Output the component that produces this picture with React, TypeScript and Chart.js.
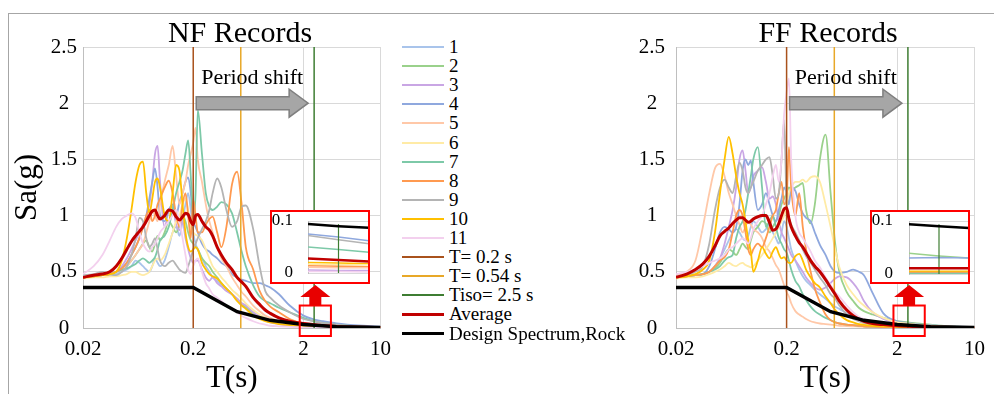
import React, { useEffect, useRef } from 'react';
import { Chart, registerables } from 'chart.js';

Chart.register(...registerables);

const SERIF = "'Liberation Serif', 'Times New Roman', serif";

// Spectral periods T (s) shared by every record curve
const periods = [
  0.02, 0.025, 0.03, 0.035, 0.04, 0.045, 0.05, 0.055, 0.06, 0.065,
  0.07, 0.075, 0.08, 0.085, 0.09, 0.095, 0.1, 0.11, 0.12, 0.13,
  0.14, 0.15, 0.16, 0.17, 0.18, 0.19, 0.2, 0.21, 0.22,
  0.24, 0.26, 0.28, 0.3, 0.33, 0.36, 0.4, 0.45, 0.5, 0.55, 0.6,
  0.7, 0.8, 0.9, 1.0, 1.2, 1.5, 2.0, 2.5, 3, 4, 5, 7, 10,
];

// Near-fault records, Sa (g)
const nfRec1 = [
  0.45, 0.46, 0.47, 0.47, 0.48, 0.5, 0.52, 0.55, 0.6, 0.58,
  0.55, 0.52, 0.5, 0.55, 0.62, 0.58, 0.55, 0.6, 0.72, 0.85,
  0.9, 0.82, 0.95, 1.1, 1.2, 1.05, 0.85, 0.75, 0.7,
  0.62, 0.55, 0.5, 0.45, 0.42, 0.38, 0.35, 0.3, 0.26, 0.22, 0.19,
  0.14, 0.11, 0.09, 0.07, 0.05, 0.035, 0.025, 0.02, 0.015, 0.01, 0.008, 0.005, 0.003,
];
const nfRec2 = [
  0.45, 0.46, 0.47, 0.48, 0.5, 0.52, 0.55, 0.6, 0.65, 0.7,
  0.75, 0.78, 0.72, 0.68, 0.75, 0.82, 0.78, 0.85, 0.95, 0.9,
  0.85, 0.92, 1.0, 0.95, 0.85, 0.78, 0.75, 0.72, 0.7,
  0.62, 0.58, 0.55, 0.5, 0.45, 0.4, 0.35, 0.3, 0.25, 0.21, 0.18,
  0.13, 0.1, 0.08, 0.06, 0.045, 0.03, 0.02, 0.015, 0.012, 0.008, 0.006, 0.004, 0.003,
];
const nfRec3 = [
  0.45, 0.46, 0.47, 0.48, 0.5, 0.55, 0.62, 0.7, 0.78, 0.85,
  0.92, 0.98, 1.1, 1.3, 1.55, 1.62, 1.3, 0.9, 1.05, 1.08,
  0.92, 0.87, 0.95, 0.8, 0.7, 0.62, 0.58, 0.6, 0.6,
  0.52, 0.45, 0.42, 0.45, 0.4, 0.37, 0.33, 0.3, 0.26, 0.22, 0.2,
  0.14, 0.1, 0.07, 0.05, 0.035, 0.02, 0.012, 0.008, 0.006, 0.004, 0.003, 0.002, 0.001,
];
const nfRec4 = [
  0.45, 0.46, 0.47, 0.48, 0.5, 0.53, 0.58, 0.65, 0.72, 0.8,
  0.9, 1.0, 1.15, 1.3, 1.42, 1.25, 1.0, 0.95, 1.05, 1.1,
  1.0, 1.12, 1.2, 1.3, 1.34, 1.2, 0.95, 0.9, 0.85,
  0.75, 0.7, 0.68, 0.65, 0.62, 0.58, 0.55, 0.48, 0.45, 0.43, 0.42,
  0.4, 0.4, 0.38, 0.36, 0.3, 0.2, 0.11, 0.075, 0.06, 0.04, 0.03, 0.02, 0.012,
];
const nfRec5 = [
  0.45, 0.46, 0.47, 0.48, 0.5, 0.52, 0.55, 0.6, 0.65, 0.7,
  0.75, 0.85, 0.95, 1.05, 1.0, 0.95, 1.1, 1.3, 1.45, 1.62,
  1.35, 1.1, 1.2, 1.3, 1.45, 1.55, 1.65, 1.78, 1.5,
  1.3, 1.1, 0.95, 0.85, 0.72, 0.62, 0.55, 0.45, 0.38, 0.32, 0.28,
  0.2, 0.15, 0.11, 0.09, 0.06, 0.04, 0.025, 0.018, 0.013, 0.008, 0.006, 0.004, 0.003,
];
const nfRec6 = [
  0.44, 0.45, 0.45, 0.46, 0.46, 0.47, 0.48, 0.5, 0.5, 0.48,
  0.47, 0.48, 0.5, 0.55, 0.6, 0.62, 0.6, 0.65, 0.75, 0.85,
  0.95, 1.0, 1.1, 1.15, 1.05, 0.9, 0.85, 0.83, 0.82,
  0.78, 0.7, 0.62, 0.55, 0.5, 0.45, 0.4, 0.34, 0.3, 0.26, 0.22,
  0.16, 0.12, 0.09, 0.07, 0.05, 0.03, 0.02, 0.015, 0.01, 0.007, 0.005, 0.003, 0.002,
];
const nfRec7 = [
  0.45, 0.46, 0.47, 0.48, 0.5, 0.52, 0.53, 0.55, 0.57, 0.6,
  0.62, 0.6, 0.58, 0.6, 0.63, 0.7, 0.78, 0.82, 0.9, 1.05,
  1.2, 1.3, 1.4, 1.55, 1.67, 1.35, 0.95, 1.2, 1.94,
  1.55, 1.2, 1.08, 1.05, 1.08, 1.12, 1.1, 1.02, 0.85, 0.68, 0.55,
  0.38, 0.28, 0.24, 0.22, 0.18, 0.14, 0.09, 0.06, 0.045, 0.03, 0.02, 0.012, 0.008,
];
const nfRec8 = [
  0.45, 0.46, 0.47, 0.48, 0.5, 0.53, 0.58, 0.65, 0.72, 0.8,
  0.9, 1.0, 1.05, 0.95, 1.0, 1.1, 1.15, 1.25, 1.31, 1.2,
  1.0, 0.9, 1.1, 1.2, 1.0, 0.8, 1.14, 1.0, 0.85,
  0.85, 0.92, 0.97, 0.99, 0.85, 0.72, 0.9, 1.28, 1.39, 1.1, 0.72,
  0.52, 0.33, 0.24, 0.19, 0.14, 0.08, 0.04, 0.03, 0.02, 0.012, 0.008, 0.005, 0.003,
];
const nfRec9 = [
  0.47, 0.48, 0.5, 0.48, 0.47, 0.5, 0.55, 0.65, 0.8, 0.98,
  0.95, 0.8, 0.72, 0.75, 0.8, 0.7, 0.6, 0.55, 0.58, 0.6,
  0.56, 0.52, 0.5, 0.49, 0.55, 0.62, 0.7, 0.75, 0.8,
  0.88, 0.95, 1.05, 1.2, 1.33, 1.25, 1.05, 0.9, 0.95, 1.08, 1.09,
  0.88, 0.55, 0.33, 0.27, 0.2, 0.14, 0.08, 0.06, 0.045, 0.03, 0.02, 0.012, 0.008,
];
const nfRec10 = [
  0.45, 0.46, 0.47, 0.48, 0.5, 0.6, 0.8, 1.05, 1.3, 1.45,
  1.48, 1.2, 1.02, 1.15, 1.3, 1.33, 1.25, 1.0, 0.95, 1.2,
  1.45, 1.4, 1.1, 0.85, 0.72, 0.68, 0.7, 0.72, 0.7,
  0.58, 0.52, 0.48, 0.46, 0.44, 0.4, 0.35, 0.3, 0.24, 0.2, 0.17,
  0.11, 0.08, 0.06, 0.05, 0.035, 0.025, 0.018, 0.015, 0.012, 0.008, 0.006, 0.004, 0.003,
];
const nfRec11 = [
  0.48, 0.55, 0.65, 0.78, 0.9, 0.97, 1.0, 1.02, 0.98, 0.85,
  0.75, 0.7, 0.68, 0.72, 0.75, 0.8, 0.85, 0.9, 0.95, 1.0,
  1.05, 0.95, 0.8, 0.65, 0.52, 0.48, 0.55, 0.6, 0.62,
  0.5, 0.4, 0.35, 0.3, 0.27, 0.24, 0.2, 0.17, 0.14, 0.11, 0.09,
  0.06, 0.04, 0.03, 0.02, 0.015, 0.01, 0.006, 0.004, 0.003, 0.002, 0.001, 0.001, 0.001,
];
const nfAverage = [
  0.45, 0.47, 0.48, 0.5, 0.55, 0.62, 0.7, 0.77, 0.82, 0.86,
  0.9, 0.95, 1.0, 1.04, 1.05, 1.0, 0.97, 1.0, 1.05, 1.04,
  0.99, 0.96, 0.99, 1.02, 1.01, 0.95, 0.92, 1.0, 1.01,
  0.95, 0.9, 0.87, 0.82, 0.72, 0.65, 0.58, 0.52, 0.45, 0.41, 0.37,
  0.27, 0.21, 0.16, 0.13, 0.09, 0.06, 0.04, 0.03, 0.022, 0.014, 0.01, 0.006, 0.004,
];

// Far-fault records, Sa (g)
const ffRec1 = [
  0.45, 0.46, 0.47, 0.48, 0.5, 0.55, 0.62, 0.7, 0.78, 0.85,
  0.88, 0.85, 0.8, 0.78, 0.82, 0.9, 0.95, 0.9, 0.85, 0.88,
  0.92, 0.85, 0.8, 0.75, 0.85, 0.95, 0.9, 0.8, 0.7,
  0.6, 0.52, 0.46, 0.42, 0.38, 0.34, 0.3, 0.26, 0.22, 0.19, 0.17,
  0.13, 0.1, 0.08, 0.06, 0.045, 0.03, 0.02, 0.015, 0.01, 0.007, 0.005, 0.003, 0.002,
];
const ffRec2 = [
  0.45, 0.46, 0.47, 0.48, 0.5, 0.53, 0.58, 0.65, 0.7, 0.68,
  0.65, 0.7, 0.75, 0.72, 0.7, 0.78, 0.85, 0.9, 0.95, 0.93,
  0.85, 0.9, 0.95, 1.0, 1.1, 1.15, 1.2, 1.25, 1.22,
  1.25, 1.27, 1.29, 1.05, 0.93, 1.1, 1.5, 1.72, 1.2, 0.75, 0.5,
  0.32, 0.24, 0.18, 0.15, 0.12, 0.09, 0.06, 0.05, 0.04, 0.03, 0.02, 0.012, 0.007,
];
const ffRec3 = [
  0.45, 0.46, 0.47, 0.48, 0.5, 0.55, 0.62, 0.75, 0.9, 1.05,
  1.25, 1.5, 1.58, 1.4, 1.2, 1.25, 1.35, 1.4, 1.43, 1.3,
  1.15, 1.17, 1.1, 0.95, 0.85, 0.8, 0.75, 0.7, 0.65,
  0.6, 0.55, 0.5, 0.45, 0.4, 0.36, 0.34, 0.36, 0.4, 0.44, 0.46,
  0.45, 0.4, 0.33, 0.24, 0.14, 0.08, 0.04, 0.03, 0.022, 0.015, 0.01, 0.006, 0.004,
];
const ffRec4 = [
  0.45, 0.46, 0.47, 0.48, 0.55, 0.7, 0.85, 0.9, 0.88, 0.85,
  0.9, 1.1, 1.4, 1.5, 1.45, 1.49, 1.3, 1.05, 1.1, 1.2,
  1.1, 1.0, 0.95, 1.05, 1.15, 1.25, 1.2, 1.1, 1.25,
  1.22, 1.1, 1.02, 0.98, 0.95, 0.85, 0.74, 0.65, 0.55, 0.5, 0.49,
  0.5, 0.52, 0.5, 0.47, 0.31, 0.13, 0.06, 0.045, 0.035, 0.025, 0.018, 0.012, 0.008,
];
const ffRec5 = [
  0.47, 0.5, 0.6, 0.9, 1.2, 1.42, 1.46, 1.35, 1.2, 1.1,
  1.0, 0.92, 0.85, 0.9, 0.95, 0.92, 0.88, 0.85, 0.8, 0.72,
  0.68, 0.62, 0.56, 0.52, 0.45, 0.38, 0.32, 0.28, 0.22,
  0.15, 0.12, 0.1, 0.08, 0.06, 0.05, 0.04, 0.035, 0.03, 0.025, 0.02,
  0.018, 0.015, 0.012, 0.01, 0.008, 0.006, 0.004, 0.003, 0.002, 0.002, 0.001, 0.001, 0.001,
];
const ffRec6 = [
  0.44, 0.45, 0.45, 0.46, 0.48, 0.5, 0.52, 0.55, 0.58, 0.56,
  0.55, 0.57, 0.58, 0.56, 0.55, 0.54, 0.55, 0.6, 0.65, 0.7,
  0.75, 0.8, 0.85, 0.9, 0.95, 1.0, 1.1, 1.2, 1.25,
  1.3, 1.3, 1.32, 1.3, 1.34, 1.35, 1.3, 1.1, 0.9, 0.7, 0.54,
  0.38, 0.3, 0.24, 0.2, 0.14, 0.09, 0.05, 0.04, 0.03, 0.02, 0.015, 0.01, 0.006,
];
const ffRec7 = [
  0.45, 0.46, 0.47, 0.48, 0.5, 0.52, 0.55, 0.6, 0.63, 0.65,
  0.8, 0.9, 0.95, 1.05, 1.2, 1.35, 1.5, 1.61, 1.25, 0.9,
  0.95, 1.0, 0.9, 0.8, 0.75, 0.7, 0.67, 0.6, 0.52,
  0.42, 0.37, 0.3, 0.25, 0.19, 0.15, 0.12, 0.09, 0.07, 0.05, 0.04,
  0.03, 0.025, 0.02, 0.015, 0.012, 0.008, 0.006, 0.005, 0.004, 0.003, 0.002, 0.001, 0.001,
];
const ffRec8 = [
  0.45, 0.46, 0.47, 0.48, 0.5, 0.55, 0.6, 0.63, 0.7, 0.85,
  1.0, 1.05, 1.0, 0.85, 0.7, 0.65, 0.7, 0.75, 0.72, 0.8,
  0.9, 1.0, 1.05, 1.2, 1.3, 1.1, 1.15, 1.61, 1.25,
  1.0, 1.2, 0.9, 0.7, 0.5, 0.35, 0.23, 0.12, 0.07, 0.05, 0.04,
  0.03, 0.025, 0.02, 0.015, 0.012, 0.008, 0.006, 0.005, 0.004, 0.003, 0.002, 0.001, 0.001,
];
const ffRec9 = [
  0.46, 0.47, 0.5, 0.55, 0.75, 1.05, 1.25, 1.32, 1.25, 1.2,
  1.35, 1.47, 1.4, 1.25, 1.2, 1.25, 1.3, 1.4, 1.45, 1.5,
  1.52, 1.35, 1.15, 1.2, 1.5, 1.85, 1.1, 0.98, 0.92,
  0.85, 0.78, 0.7, 0.64, 0.58, 0.52, 0.45, 0.38, 0.3, 0.26, 0.2,
  0.12, 0.08, 0.06, 0.045, 0.03, 0.02, 0.012, 0.009, 0.007, 0.005, 0.003, 0.002, 0.001,
];
const ffRec10 = [
  0.45, 0.46, 0.48, 0.52, 0.6, 0.85, 1.2, 1.5, 1.7, 1.55,
  1.35, 1.2, 1.1, 0.95, 0.78, 0.68, 0.5, 0.6, 0.72, 0.66,
  0.62, 0.68, 0.72, 0.66, 0.62, 0.63, 0.6, 0.58, 0.58,
  0.64, 0.66, 0.6, 0.52, 0.45, 0.4, 0.36, 0.28, 0.22, 0.16, 0.12,
  0.07, 0.05, 0.035, 0.028, 0.02, 0.015, 0.01, 0.008, 0.006, 0.004, 0.003, 0.002, 0.001,
];
const ffRec11 = [
  0.48, 0.5, 0.52, 0.55, 0.58, 0.6, 0.62, 0.65, 0.7, 0.72,
  0.75, 0.78, 0.8, 0.78, 0.75, 0.8, 0.88, 0.95, 1.0, 1.1,
  1.2, 1.35, 1.45, 1.3, 1.5, 1.9, 2.1, 2.22, 1.5,
  1.0, 0.85, 0.8, 0.75, 0.68, 0.6, 0.54, 0.45, 0.38, 0.32, 0.28,
  0.2, 0.14, 0.1, 0.08, 0.05, 0.03, 0.02, 0.015, 0.01, 0.007, 0.005, 0.003, 0.002,
];
const ffAverage = [
  0.45, 0.48, 0.52, 0.57, 0.64, 0.73, 0.82, 0.86, 0.89, 0.93,
  0.96, 0.98, 0.98, 0.96, 0.94, 0.95, 0.97, 0.99, 1.0, 1.0,
  0.94, 0.87, 0.88, 0.93, 1.0, 1.06, 1.07, 0.97, 0.9,
  0.82, 0.76, 0.72, 0.67, 0.6, 0.55, 0.5, 0.43, 0.36, 0.3, 0.24,
  0.16, 0.11, 0.08, 0.06, 0.04, 0.03, 0.02, 0.015, 0.012, 0.008, 0.006, 0.004, 0.003,
];

// Design spectrum, rock site
const designPeriods = [0.02, 0.2, 0.5, 1, 2, 4, 10];
const designSa = [0.36, 0.36, 0.145, 0.068, 0.032, 0.012, 0.004];

// Reference periods (fixed-base, intermediate, isolated)
const refPeriods = [0.2, 0.54, 2.5];
const refLabels = ['T= 0.2 s', 'T= 0.54 s', 'Tiso= 2.5 s'];
const refColors = ['#A9521C', '#E8A828', '#3E7D32'];

const recordLabels = ['1', '2', '3', '4', '5', '6', '7', '8', '9', '10', '11'];
const recordColors = [
  '#A9C4EB', '#9AD18B', '#C9A6E4', '#8FA8DE', '#FFC8A8', '#FFEBA6',
  '#7DC9A8', '#FF9A50', '#B4B4B4', '#FFC000', '#F3D0EE',
];
const AVERAGE_COLOR = '#C00000';
const DESIGN_COLOR = '#000000';

const xTickValues = [0.02, 0.2, 2, 10];
const yTickValues = [0, 0.5, 1, 1.5, 2, 2.5];

// Close-up window around Tiso (T from 2 s to 3 s, Sa 0 to 0.1 g)
const insetPeriods = [2.0, 2.5, 3.0];
const insetTicks = [0, 0.1];
const nfInsetDesign = [0.094, 0.09, 0.087];
const nfInsetAverage = [0.028, 0.025, 0.022];
const nfInsetRec4 = [0.075, 0.069, 0.062];
const nfInsetRec9 = [0.072, 0.064, 0.056];
const nfInsetRec7 = [0.05, 0.045, 0.04];
const nfInsetRec10 = [0.02, 0.019, 0.018];
const nfInsetRec6 = [0.017, 0.016, 0.016];
const nfInsetRec8 = [0.014, 0.013, 0.012];
const nfInsetRec5 = [0.011, 0.01, 0.01];
const nfInsetRec3 = [0.006, 0.005, 0.005];
const nfInsetRec11 = [0.003, 0.003, 0.002];
const ffInsetDesign = [0.094, 0.09, 0.087];
const ffInsetAverage = [0.011, 0.011, 0.011];
const ffInsetRec2 = [0.039, 0.034, 0.03];
const ffInsetRec4 = [0.03, 0.031, 0.03];
const ffInsetRec10 = [0.005, 0.005, 0.005];
const ffInsetRec8 = [0.003, 0.003, 0.003];
const ffInsetRec7 = [0.001, 0.001, 0.001];

const nfRecords = [nfRec1, nfRec2, nfRec3, nfRec4, nfRec5, nfRec6, nfRec7, nfRec8, nfRec9, nfRec10, nfRec11];
const ffRecords = [ffRec1, ffRec2, ffRec3, ffRec4, ffRec5, ffRec6, ffRec7, ffRec8, ffRec9, ffRec10, ffRec11];
// [record number, values]
const nfInsetRecords: [number, number[]][] = [
  [11, nfInsetRec11], [3, nfInsetRec3], [5, nfInsetRec5], [8, nfInsetRec8], [6, nfInsetRec6],
  [10, nfInsetRec10], [7, nfInsetRec7], [9, nfInsetRec9], [4, nfInsetRec4],
];
const ffInsetRecords: [number, number[]][] = [
  [7, ffInsetRec7], [8, ffInsetRec8], [10, ffInsetRec10], [4, ffInsetRec4], [2, ffInsetRec2],
];

const toPoints = (xs: number[], ys: number[]) => xs.map((x, i) => ({ x, y: ys[i] }));

const GRID = '#D9D9D9';
const AXIS = '#BFBFBF';

// Title, period-shift arrow, and the red marker pointing to the close-up
const panelDecor = {
  id: 'panelDecor',
  afterDraw(chart: any, _args: any, opts: any) {
    const { ctx, chartArea } = chart;
    const x = chart.scales.x;
    const y = chart.scales.y;
    ctx.save();
    ctx.fillStyle = '#000';
    ctx.textAlign = 'center';
    ctx.textBaseline = 'alphabetic';
    ctx.font = `30px ${SERIF}`;
    ctx.fillText(opts.title, opts.titleX, 42);

    const x0 = x.getPixelForValue(refPeriods[0]) + 3;
    const x1 = x.getPixelForValue(refPeriods[2]) - 6;
    const yc = y.getPixelForValue(2);
    const body = 6.5;
    const head = 14;
    const headLen = 19;
    ctx.beginPath();
    ctx.moveTo(x0, yc - body);
    ctx.lineTo(x1 - headLen, yc - body);
    ctx.lineTo(x1 - headLen, yc - head);
    ctx.lineTo(x1, yc);
    ctx.lineTo(x1 - headLen, yc + head);
    ctx.lineTo(x1 - headLen, yc + body);
    ctx.lineTo(x0, yc + body);
    ctx.closePath();
    ctx.fillStyle = '#A6A6A6';
    ctx.fill();
    ctx.strokeStyle = '#7F7F7F';
    ctx.lineWidth = 1.5;
    ctx.stroke();
    ctx.fillStyle = '#000';
    ctx.font = `22px ${SERIF}`;
    ctx.fillText('Period shift', (x0 + x1) / 2, yc - 19);

    const bx0 = x.getPixelForValue(opts.zoomFrom);
    const bx1 = x.getPixelForValue(opts.zoomTo);
    const by0 = y.getPixelForValue(0.2);
    const by1 = chartArea.bottom + 8;
    ctx.strokeStyle = '#FF0000';
    ctx.lineWidth = 2;
    ctx.strokeRect(bx0, by0, bx1 - bx0, by1 - by0);

    const cx = (bx0 + bx1) / 2;
    const tip = opts.pointerTip;
    const headBase = tip + 12;
    ctx.beginPath();
    ctx.moveTo(cx, tip);
    ctx.lineTo(cx + 15, headBase);
    ctx.lineTo(cx + 6, headBase);
    ctx.lineTo(cx + 6, by0);
    ctx.lineTo(cx - 6, by0);
    ctx.lineTo(cx - 6, headBase);
    ctx.lineTo(cx - 15, headBase);
    ctx.closePath();
    ctx.fillStyle = '#E80000';
    ctx.fill();
    ctx.restore();
  },
};

type PanelProps = {
  left: number;
  width: number;
  plotLeft: number;
  plotRight: number;
  title: string;
  titleX: number;
  yTitle: boolean;
  yTickPad: number;
  records: number[][];
  average: number[];
};

function SpectrumPanel(p: PanelProps) {
  const ref = useRef<HTMLCanvasElement>(null);
  useEffect(() => {
    const datasets: any[] = [];
    datasets.push({
      label: 'Design Spectrum,Rock', data: toPoints(designPeriods, designSa),
      borderColor: DESIGN_COLOR, borderWidth: 3.5, order: 0, tension: 0,
    });
    datasets.push({
      label: 'Average', data: toPoints(periods, p.average),
      borderColor: AVERAGE_COLOR, borderWidth: 3, order: 1, cubicInterpolationMode: 'monotone',
    });
    refPeriods.forEach((t, i) => {
      datasets.push({
        label: refLabels[i], data: [{ x: t, y: yTickValues[0] }, { x: t, y: yTickValues[yTickValues.length - 1] }],
        borderColor: refColors[i], borderWidth: 1.5, order: 2 + i,
      });
    });
    p.records.forEach((r, i) => {
      datasets.push({
        label: recordLabels[i], data: toPoints(periods, r),
        borderColor: recordColors[i], borderWidth: 1.8, order: 20 - i, cubicInterpolationMode: 'monotone',
      });
    });

    const chart = new Chart(ref.current as HTMLCanvasElement, {
      type: 'line',
      data: { datasets },
      options: {
        responsive: false,
        animation: false,
        events: [],
        layout: { padding: { left: 0, right: p.width - p.plotRight, top: 47, bottom: 0 } },
        elements: { point: { radius: 0 }, line: { fill: false } },
        plugins: {
          legend: { display: false },
          tooltip: { enabled: false },
          panelDecor: {
            title: p.title, titleX: p.titleX, zoomFrom: 1.85, zoomTo: 3.55, pointerTip: 285,
          },
        } as any,
        scales: {
          x: {
            type: 'logarithmic',
            min: xTickValues[0],
            max: xTickValues[xTickValues.length - 1],
            afterBuildTicks: (s: any) => { s.ticks = xTickValues.map((v) => ({ value: v })); },
            afterFit: (s: any) => { s.height = 66; },
            ticks: {
              autoSkip: false, maxRotation: 0, padding: 9, color: '#000',
              font: { family: SERIF, size: 21 },
              callback: (v: any) => String(v),
            },
            grid: { color: GRID, lineWidth: 1, drawTicks: false },
            border: { color: AXIS, width: 1 },
            title: {
              display: true, text: 'T(s)', color: '#000',
              font: { family: SERIF, size: 31, lineHeight: 1 }, padding: 0,
            },
          },
          y: {
            type: 'linear',
            min: yTickValues[0],
            max: yTickValues[yTickValues.length - 1],
            afterBuildTicks: (s: any) => { s.ticks = yTickValues.map((v) => ({ value: v })); },
            afterFit: (s: any) => { s.width = p.plotLeft; },
            ticks: {
              crossAlign: 'center', padding: p.yTickPad, color: '#000',
              font: { family: SERIF, size: 21 },
              callback: (v: any) => String(v),
            },
            grid: { color: GRID, lineWidth: 1, drawTicks: false },
            border: { color: AXIS, width: 1 },
            title: {
              display: p.yTitle, text: 'Sa(g)', color: '#000',
              font: { family: SERIF, size: 31 }, padding: { top: 9, bottom: 0 },
            },
          },
        },
      } as any,
      plugins: [panelDecor as any],
    });
    return () => chart.destroy();
  }, []);
  return (
    <canvas
      ref={ref}
      width={p.width}
      height={394}
      style={{ position: 'absolute', left: p.left, top: 0, width: p.width, height: 394 }}
    />
  );
}

const insetFrame = {
  id: 'insetFrame',
  afterDraw(chart: any) {
    const { ctx, width, height } = chart;
    ctx.save();
    ctx.strokeStyle = '#FF0000';
    ctx.lineWidth = 2;
    ctx.strokeRect(1, 1, width - 2, height - 2);
    ctx.restore();
  },
};

type InsetProps = {
  left: number;
  top: number;
  plotLeft: number;
  plotBottom: number;
  tickPad: number;
  design: number[];
  average: number[];
  records: [number, number[]][];
};

function ZoomInset(p: InsetProps) {
  const ref = useRef<HTMLCanvasElement>(null);
  const W = 100;
  const H = 74;
  useEffect(() => {
    const datasets: any[] = [
      { data: toPoints(insetPeriods, p.design), borderColor: DESIGN_COLOR, borderWidth: 2.5, order: 0 },
      { data: toPoints(insetPeriods, p.average), borderColor: AVERAGE_COLOR, borderWidth: 2.5, order: 1 },
      {
        data: [{ x: refPeriods[2], y: insetTicks[0] }, { x: refPeriods[2], y: 0.094 }],
        borderColor: refColors[2], borderWidth: 1.2, order: 2,
      },
    ];
    p.records.forEach(([n, vals], i) => {
      datasets.push({
        data: toPoints(insetPeriods, vals), borderColor: recordColors[n - 1], borderWidth: 1.5, order: 10 + i,
      });
    });
    const chart = new Chart(ref.current as HTMLCanvasElement, {
      type: 'line',
      data: { datasets },
      options: {
        responsive: false,
        animation: false,
        events: [],
        layout: { padding: { left: 0, right: 1, top: 11, bottom: H - p.plotBottom } },
        elements: { point: { radius: 0 }, line: { fill: false, tension: 0 } },
        plugins: { legend: { display: false }, tooltip: { enabled: false } },
        scales: {
          x: { type: 'linear', min: insetPeriods[0], max: insetPeriods[insetPeriods.length - 1], display: false },
          y: {
            type: 'linear', min: insetTicks[0], max: insetTicks[1],
            afterBuildTicks: (s: any) => { s.ticks = insetTicks.map((v) => ({ value: v })); },
            afterFit: (s: any) => {
              s.width = p.plotLeft;
              s.paddingTop = 0;
              s.paddingBottom = 0;
            },
            ticks: {
              padding: p.tickPad, color: '#000', font: { family: SERIF, size: 17 },
              callback: (v: any) => String(v),
            },
            grid: { color: GRID, drawTicks: false },
            border: { color: AXIS },
          },
        },
      } as any,
      plugins: [insetFrame as any],
    });
    return () => chart.destroy();
  }, []);
  return (
    <canvas
      ref={ref}
      width={W}
      height={H}
      style={{ position: 'absolute', left: p.left, top: p.top, width: W, height: H, background: '#fff' }}
    />
  );
}

const legendItems = [
  ...recordLabels.map((label, i) => ({ label, color: recordColors[i], width: 2 })),
  ...refLabels.map((label, i) => ({ label, color: refColors[i], width: 2 })),
  { label: 'Average', color: AVERAGE_COLOR, width: 3 },
  { label: 'Design Spectrum,Rock', color: DESIGN_COLOR, width: 3.5 },
];

function Legend() {
  const top0 = 47;
  const step = 19.1;
  return (
    <div style={{ position: 'absolute', left: 0, top: 0 }}>
      {legendItems.map((it, i) => {
        const yc = top0 + i * step;
        return (
          <React.Fragment key={it.label}>
            <div
              style={{
                position: 'absolute', left: 402, top: yc - it.width / 2, width: 42, height: it.width,
                background: it.color,
              }}
            />
            <div
              style={{
                position: 'absolute', left: 449, top: yc - 11, height: 22, lineHeight: '22px',
                fontFamily: SERIF, fontSize: 19, color: '#000', whiteSpace: 'nowrap',
              }}
            >
              {it.label}
            </div>
          </React.Fragment>
        );
      })}
    </div>
  );
}

export default function App() {
  return (
    <div
      style={{
        position: 'fixed', left: 0, top: 0, width: 994, height: 394, overflow: 'hidden',
        background: '#fff',
      }}
    >
      <div
        style={{
          position: 'absolute', left: 8, top: 13, width: 1000, height: 400,
          borderTop: '1px solid #A6A6A6', borderLeft: '1px solid #A6A6A6',
        }}
      />
      <SpectrumPanel
        left={0} width={400} plotLeft={83} plotRight={382}
        title="NF Records" titleX={240} yTitle yTickPad={6}
        records={nfRecords} average={nfAverage}
      />
      <SpectrumPanel
        left={600} width={394} plotLeft={76} plotRight={382}
        title="FF Records" titleX={228} yTitle={false} yTickPad={11}
        records={ffRecords} average={ffAverage}
      />
      <Legend />
      <ZoomInset
        left={270} top={210} plotLeft={38} plotBottom={63} tickPad={15}
        design={nfInsetDesign} average={nfInsetAverage} records={nfInsetRecords}
      />
      <ZoomInset
        left={870} top={210} plotLeft={39} plotBottom={64} tickPad={16}
        design={ffInsetDesign} average={ffInsetAverage} records={ffInsetRecords}
      />
    </div>
  );
}
